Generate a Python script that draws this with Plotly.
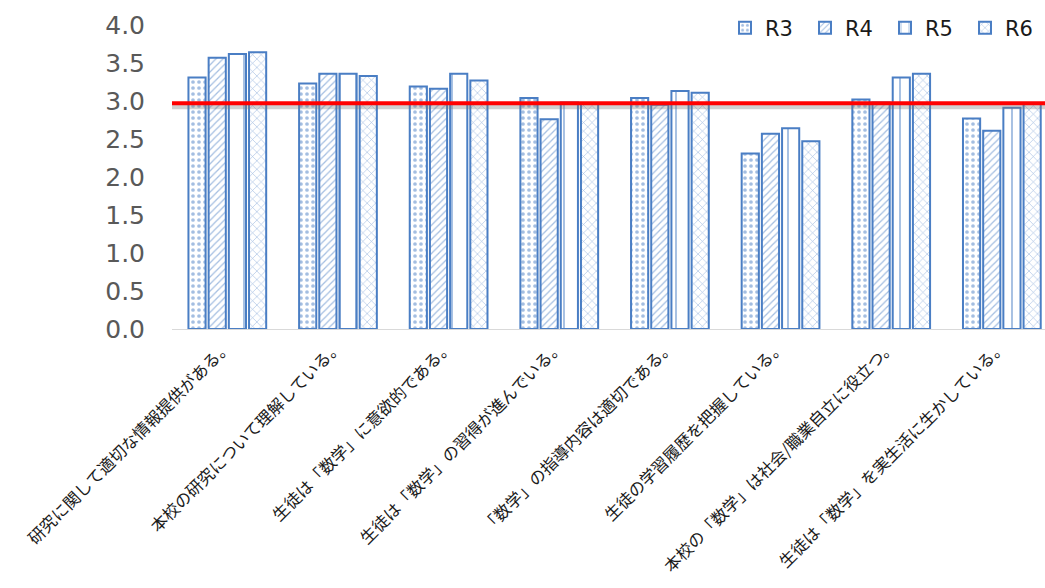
import plotly.graph_objects as go

categories = [
    "研究に関して適切な情報提供がある。",
    "本校の研究について理解している。",
    "生徒は「数学」に意欲的である。",
    "生徒は「数学」の習得が進んでいる。",
    "「数学」の指導内容は適切である。",
    "生徒の学習履歴を把握している。",
    "本校の「数学」は社会/職業自立に役立つ。",
    "生徒は「数学」を実生活に生かしている。",
]
series_names = ["R3", "R4", "R5", "R6"]
r3 = [3.31, 3.23, 3.19, 3.04, 3.04, 2.31, 3.02, 2.77]
r4 = [3.57, 3.36, 3.16, 2.76, 2.95, 2.57, 2.98, 2.61]
r5 = [3.62, 3.36, 3.36, 2.98, 3.13, 2.64, 3.31, 2.91]
r6 = [3.64, 3.33, 3.27, 2.97, 3.11, 2.47, 3.36, 2.97]
reference_level = 2.97
y_ticks = [0.0, 0.5, 1.0, 1.5, 2.0, 2.5, 3.0, 3.5, 4.0]

blue = "#4A7EC4"
patterns = [(".", 6, 0.3), ("/", 5, 0.25), ("|", 16, 0.12), ("x", 6, 0.2)]

fig = go.Figure()
for name, vals, (shape, size, solidity) in zip(series_names, [r3, r4, r5, r6], patterns):
    fig.add_trace(go.Bar(
        name=name,
        x=categories,
        y=vals,
        marker=dict(
            color="white",
            line=dict(color=blue, width=2),
            pattern=dict(shape=shape, fgcolor=blue, bgcolor="white",
                         size=size, solidity=solidity),
        ),
    ))

# soft shadow under the reference line (offset a few pixels downward)
fig.add_shape(type="line", xref="paper", yref="y", x0=0, x1=1,
              ysizemode="pixel", yanchor=reference_level, y0=-3, y1=-3,
              line=dict(color="rgba(120,120,120,0.35)", width=6),
              layer="above")
fig.add_shape(type="line", xref="paper", yref="y", x0=0, x1=1,
              y0=reference_level, y1=reference_level,
              line=dict(color="#FF0000", width=4), layer="above")

fig.update_layout(
    width=1045, height=588,
    margin=dict(l=172, r=0, t=25, b=259),
    paper_bgcolor="white", plot_bgcolor="white",
    barmode="group", bargap=0.27, bargroupgap=0.15,
    showlegend=True,
    legend=dict(orientation="h", x=1.0, xanchor="right", y=0.99,
                yanchor="middle", font=dict(family="DejaVu Sans", size=21,
                                            color="#1A1A1A"),
                bgcolor="rgba(0,0,0,0)", entrywidth=35,
                entrywidthmode="pixels"),
    xaxis=dict(
        range=[-0.5, 7.39],
        tickangle=-45,
        tickfont=dict(family="Noto Sans CJK JP", size=16.5, color="#1A1A1A"),
        showline=True, linecolor="#D9D9D9", linewidth=1,
        showgrid=False, ticks="", automargin=False,
    ),
    yaxis=dict(
        range=[0, 4],
        tickvals=y_ticks,
        ticktext=[f"{v:.1f}" for v in y_ticks],
        tickfont=dict(family="DejaVu Sans", size=25, color="#595959"),
        showgrid=False, zeroline=False, showline=False,
        ticklabelstandoff=26, automargin=False,
    ),
)

fig.write_html("out.html")
